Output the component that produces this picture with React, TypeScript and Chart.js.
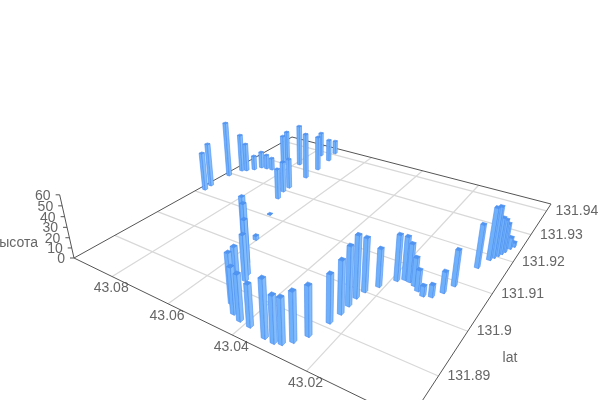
import { useEffect, useRef } from "react";
import { Chart, registerables } from "chart.js";
Chart.register(...registerables);

const lons = [43.0934,43.0938,43.0937,43.0925,43.0912,43.0895,43.0883,43.0863,43.0843,43.0839,43.0853,43.0699,43.0713,43.0713,43.0786,43.0709,43.0710,43.0765,43.0718,43.0732,43.0582,43.0552,43.0519,43.0507,43.0475,43.0484,43.0446,43.0418,43.0386,43.0335,43.0309,43.0292,43.0275,43.0258,43.0658,43.0605,43.0243,43.0238,43.0238,43.0238,43.0233,43.0214,43.0188,43.0173,43.0159,43.0142,43.0126,43.0107,43.0088,43.0071,43.0059,43.0039,43.0025,43.0019,43.0013,43.0008,43.0004,42.9997,42.9991];
const lats = [131.9117,131.9137,131.9192,131.9225,131.9231,131.9244,131.9260,131.9262,131.9264,131.9302,131.9328,131.9167,131.9196,131.9216,131.9317,131.9272,131.9318,131.9382,131.9369,131.9409,131.8980,131.8961,131.8938,131.8924,131.8869,131.8888,131.8853,131.8846,131.8844,131.8837,131.8836,131.8840,131.8852,131.8873,131.9108,131.9026,131.8912,131.8937,131.8959,131.8981,131.9001,131.9024,131.9053,131.9062,131.9061,131.9056,131.9047,131.9040,131.9045,131.9064,131.9089,131.9155,131.9187,131.9197,131.9206,131.9215,131.9224,131.9238,131.9248];
const heights = [40.2,46.0,59.2,40.9,30.6,15.5,18.0,15.6,13.1,32.3,31.6,31.8,32.4,31.6,44.9,49.0,37.5,27.0,24.3,14.9,55.6,56.5,51.1,42.7,45.6,44.4,41.6,41.2,37.5,50.8,40.9,40.0,43.4,43.7,0.5,4.1,42.7,47.4,53.0,56.1,48.9,35.2,42.6,40.0,35.4,26.2,19.6,9.4,11.2,19.6,33.4,40.8,49.6,48.8,36.9,33.3,27.6,11.1,4.1];
const lonRange = [42.9968,43.0953];
const latRange = [131.8816,131.9432];
const heightRange = [0,60];
const lonTickStep = 0.02;
const latTickStep = 0.01;
const heightTickStep = 10;
const heightName = "высота";
const latName = "lat";

const C = [[74,258],[409,421],[551,204],[292,137]];
const V = [315,1320];
const K = -0.000936;
const [x0,y0]=C[0],[x1,y1]=C[1],[x2,y2]=C[2],[x3,y3]=C[3];
const dx1=x1-x2,dx2=x3-x2,sx=x0-x1+x2-x3,dy1=y1-y2,dy2=y3-y2,sy=y0-y1+y2-y3;
const den=dx1*dy2-dx2*dy1;
const G=(sx*dy2-dx2*sy)/den,H=(dx1*sy-sx*dy1)/den;
const A=x1-x0+G*x1,B=x3-x0+H*x3,D=y1-y0+G*y1,E=y3-y0+H*y3;
function project(s:number,t:number,w:number){
  const d=G*s+H*t+1+w*K;
  return [(A*s+B*t+x0+w*K*V[0])/d,(D*s+E*t+y0+w*K*V[1])/d];
}
const onStep=(v:number,st:number)=>Math.abs(v/st-Math.round(v/st))<1e-6;
const plugin={id:"b3d",afterDatasetsDraw(ch:any){
  const c=ch.ctx,X=ch.scales.x,Y=ch.scales.y,Z=ch.scales.z;
  const S=(v:number)=>1-X.getDecimalForPixel(X.getPixelForValue(v)),T=(v:number)=>Y.getDecimalForPixel(Y.getPixelForValue(v));
  const line=(a:number[],b:number[])=>{c.beginPath();c.moveTo(a[0],a[1]);c.lineTo(b[0],b[1]);c.stroke();};
  c.save();
  c.font='14px "Liberation Sans"';c.fillStyle="#666";
  c.strokeStyle="#d8d8d8";c.lineWidth=1.2;
  for(const k of X.ticks){const v=k.value;if(!onStep(v,lonTickStep))continue;const s=S(v);const a=project(s,0,0),b=project(s,1,0);line(a,b);
    c.textAlign="center";c.textBaseline="middle";c.fillText(v.toFixed(2),a[0]-1,a[1]+12);}
  for(const k of Y.ticks){const v=k.value;if(!onStep(v,latTickStep))continue;const t=T(v);const a=project(0,t,0),b=project(1,t,0);line(a,b);
    c.textAlign="left";c.textBaseline="middle";c.fillText(String(+v.toFixed(2)),b[0]+9,b[1]);}
  c.strokeStyle="#555";c.lineWidth=1;
  line(C[0],C[1]);line(C[1],C[2]);line(C[2],C[3]);line(C[3],C[0]);
  line(project(0,0,0),project(0,0,heightRange[1]));
  for(const k of Z.ticks){const p=project(0,0,k.value);line([p[0]-4,p[1]],p);c.textAlign="right";c.textBaseline="middle";c.fillText(String(k.value),p[0]-9,p[1]+1);}
  c.textAlign="right";c.fillText(heightName,38,243);
  c.textAlign="center";c.fillText(latName,510,358);
  const data=[...ch.data.datasets[0].data].sort((a:any,b:any)=>(T(b.y)-S(b.x))-(T(a.y)-S(a.x)));
  const dl=0.00056,dt=0.00036;
  for(const b of data){
    const s0=S(b.x+dl),s1=S(b.x-dl),t0=T(b.y-dt),t1=T(b.y+dt);
    const poly=(pts:number[][],f:string)=>{c.beginPath();pts.forEach((p,i)=>i?c.lineTo(p[0],p[1]):c.moveTo(p[0],p[1]));c.closePath();c.fillStyle=f;c.fill();c.strokeStyle="#4a8df0";c.lineWidth=0.6;c.stroke();};
    poly([project(s0,t0,0),project(s1,t0,0),project(s1,t0,b.h),project(s0,t0,b.h)],"#6fb0fb");
    poly([project(s1,t0,0),project(s1,t1,0),project(s1,t1,b.h),project(s1,t0,b.h)],"#84bdfc");
    poly([project(s0,t0,b.h),project(s1,t0,b.h),project(s1,t1,b.h),project(s0,t1,b.h)],"#5096f0");
  }
  c.restore();
}};
export default function App(){
  const ref=useRef<HTMLCanvasElement>(null);
  useEffect(()=>{
    document.body.style.margin="0";
    const points=lons.map((x,i)=>({x,y:lats[i],h:heights[i]}));
    const ch=new Chart(ref.current!,{type:"scatter",data:{datasets:[{data:points as any,pointRadius:0}]},plugins:[plugin],options:{responsive:false,animation:false,plugins:{legend:{display:false},tooltip:{enabled:false}},layout:{padding:0},
      scales:{x:{type:"linear",min:lonRange[0],max:lonRange[1],display:false,ticks:{stepSize:lonTickStep}},y:{type:"linear",min:latRange[0],max:latRange[1],display:false,ticks:{stepSize:latTickStep}},z:{type:"linear",axis:"y",min:heightRange[0],max:heightRange[1],display:false,ticks:{stepSize:heightTickStep}}}}} as any);
    return()=>ch.destroy();
  },[]);
  return <canvas ref={ref} width={600} height={400} style={{display:"block"}}/>;
}
